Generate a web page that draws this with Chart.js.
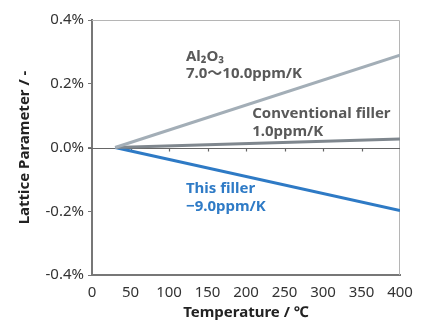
<!DOCTYPE html>
<html>
<head>
<meta charset="utf-8">
<script src="https://cdn.jsdelivr.net/npm/chart.js@4"></script>
<style>
  html, body { margin: 0; padding: 0; background: #fff; }
  #wrap { width: 430px; height: 320px; }
</style>
</head>
<body>
<div id="wrap"><canvas id="latticeChart" width="430" height="320"></canvas></div>
<script>
// data (values in %)
const temps = [30, 400];
const al2o3 = [0, 0.29];
const conventional = [0, 0.027];
const thisFiller = [0, -0.198];
const yTicks = [-0.4, -0.2, 0, 0.2, 0.4];
const xTicks = [0, 50, 100, 150, 200, 250, 300, 350, 400];

// labels: [text, x, y, color]
const notes = [
    ['Al₂O₃', 122, 0.285, '#595959'],
    ['7.0〜10.0ppm/K', 122, 0.232, '#595959'],
    ['Conventional filler', 208, 0.107, '#595959'],
    ['1.0ppm/K', 208, 0.051, '#595959'],
    ['This filler', 122, -0.129, '#2f7bc6'],
    ['−9.0ppm/K', 122, -0.186, '#2f7bc6']
];

const FONT = '"Noto Sans", "Noto Sans CJK JP", sans-serif';

const framePlugin = {
    id: 'frame',
    beforeDatasetsDraw(chart) {
        const { ctx, chartArea: a, scales } = chart;
        ctx.save();
        // light top/right border
        ctx.strokeStyle = '#b5b5b5';
        ctx.lineWidth = 1;
        ctx.beginPath();
        ctx.moveTo(a.left, a.top + 0.5);
        ctx.lineTo(a.right - 0.5, a.top + 0.5);
        ctx.lineTo(a.right - 0.5, a.bottom);
        ctx.stroke();
        // zero line with small ticks
        const y0 = Math.round(scales.y.getPixelForValue(0)) + 0.5;
        ctx.strokeStyle = '#666';
        ctx.lineWidth = 1.2;
        ctx.beginPath();
        ctx.moveTo(a.left - 4, y0);
        ctx.lineTo(a.right, y0);
        xTicks.slice(1, -1).forEach(t => {
            const x = Math.round(scales.x.getPixelForValue(t)) + 0.5;
            ctx.moveTo(x, y0);
            ctx.lineTo(x, y0 + 3);
        });
        ctx.stroke();
        ctx.restore();
    },
    afterDatasetsDraw(chart) {
        const { ctx, scales } = chart;
        ctx.save();
        ctx.font = 'bold 15px ' + FONT;
        ctx.textBaseline = 'middle';
        ctx.textAlign = 'left';
        notes.forEach(n => {
            ctx.fillStyle = n[3];
            ctx.fillText(n[0], scales.x.getPixelForValue(n[1]), scales.y.getPixelForValue(n[2]));
        });
        ctx.restore();
    }
};

new Chart(document.getElementById('latticeChart'), {
    type: 'line',
    data: {
        datasets: [
            {
                label: 'Al2O3',
                data: temps.map((t, i) => ({ x: t, y: al2o3[i] })),
                borderColor: '#a3aeb7',
                borderWidth: 3
            },
            {
                label: 'Conventional filler',
                data: temps.map((t, i) => ({ x: t, y: conventional[i] })),
                borderColor: '#7f878e',
                borderWidth: 3
            },
            {
                label: 'This filler',
                data: temps.map((t, i) => ({ x: t, y: thisFiller[i] })),
                borderColor: '#2e7ac5',
                borderWidth: 3
            }
        ]
    },
    options: {
        responsive: false,
        animation: false,
        devicePixelRatio: 1,
        layout: { padding: { top: 20, right: 30, left: 12, bottom: 0 } },
        elements: { point: { radius: 0 }, line: { tension: 0, borderCapStyle: 'butt' } },
        plugins: { legend: { display: false }, tooltip: { enabled: false } },
        scales: {
            x: {
                type: 'linear',
                min: 0,
                max: 400,
                afterBuildTicks: s => { s.ticks = xTicks.map(v => ({ value: v })); },
                afterFit: s => { s.height = 45; },
                grid: { drawOnChartArea: false, drawTicks: false },
                border: { color: '#777', width: 2 },
                ticks: { color: '#333', font: { family: FONT, size: 15 }, padding: 9, maxRotation: 0 },
                title: {
                    display: true,
                    text: 'Temperature / ℃',
                    color: '#222',
                    font: { family: FONT, size: 15, weight: 'bold' },
                    padding: { top: 0, bottom: -2 }
                }
            },
            y: {
                min: -0.4,
                max: 0.4,
                afterBuildTicks: s => { s.ticks = yTicks.map(v => ({ value: v })); },
                afterFit: s => { s.width = 80; },
                grid: { drawOnChartArea: false, tickLength: 4, color: '#777' },
                border: { color: '#777', width: 2 },
                ticks: {
                    color: '#333',
                    font: { family: FONT, size: 15 },
                    padding: 4,
                    callback: v => v.toFixed(1) + '%'
                },
                title: {
                    display: true,
                    text: 'Lattice Parameter / -',
                    color: '#222',
                    font: { family: FONT, size: 15, weight: 'bold' },
                    padding: { bottom: 4 }
                }
            }
        }
    },
    plugins: [framePlugin]
});
</script>
</body>
</html>
